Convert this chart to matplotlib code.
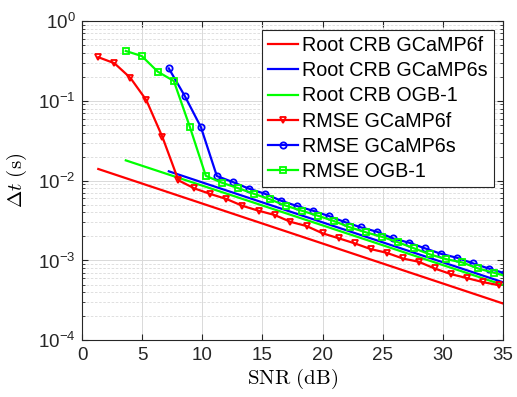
import matplotlib
matplotlib.use("Agg")
import matplotlib.pyplot as plt
from matplotlib.ticker import LogLocator, NullFormatter

# SNR grids (dB) of the simulated RMSE curves
snr_6f = [1.33, 2.67, 4.0, 5.33, 6.67, 8.0, 9.33, 10.67, 12.0, 13.33, 14.67,
          16.0, 17.33, 18.67, 20.0, 21.33, 22.67, 24.0, 25.33, 26.67, 28.0,
          29.33, 30.67, 32.0, 33.33, 34.67]
snr_6s = [7.2, 8.53, 9.87, 11.2, 12.53, 13.87, 15.2, 16.53, 17.87, 19.2,
          20.53, 21.87, 23.2, 24.53, 25.87, 27.2, 28.53, 29.87, 31.2, 32.53,
          33.87, 35.2]
snr_ogb = [3.62, 4.95, 6.28, 7.62, 8.95, 10.28, 11.62, 12.95, 14.28, 15.62,
           16.95, 18.28, 19.62, 20.95, 22.28, 23.62, 24.95, 26.28, 27.62,
           28.95, 30.28, 31.62, 32.95, 34.28, 35.62]

rmse_6f = [0.352, 0.296, 0.194, 0.102, 0.0352, 0.0101, 0.0080, 0.0068,
           0.00589, 0.00484, 0.0042, 0.00372, 0.00305, 0.0027, 0.00219,
           0.0019, 0.00164, 0.00139, 0.00125, 0.00106, 0.000964, 0.000794,
           0.000676, 0.000603, 0.000537, 0.00049]
rmse_6s = [0.255, 0.115, 0.047, 0.01143, 0.0096, 0.00794, 0.00685, 0.00562,
           0.00481, 0.0042, 0.0036, 0.00302, 0.0026, 0.00229, 0.00189,
           0.00167, 0.00142, 0.00121, 0.00108, 0.00092, 0.00079, 0.00069]
rmse_ogb = [0.421, 0.364, 0.232, 0.177, 0.0473, 0.0115, 0.00942, 0.00807,
            0.00685, 0.00583, 0.00485, 0.0042, 0.00363, 0.00312, 0.0026,
            0.00225, 0.00198, 0.00169, 0.00142, 0.00119, 0.00104, 0.000946,
            0.000794, 0.000701, 0.000617]

# root CRB (straight on log scale): start and end points
crb_6f_snr = [1.33, 35.0]
crb_6f = [0.0140, 0.00029]
crb_6s_snr = [7.2, 35.0]
crb_6s = [0.01309, 0.000535]
crb_ogb_snr = [3.62, 35.0]
crb_ogb = [0.01795, 0.000495]

x_ticks = [0, 5, 10, 15, 20, 25, 30, 35]
y_ticks = [1e-4, 1e-3, 1e-2, 1e-1, 1e0]
y_tick_labels = [r'$10^{-4}$', r'$10^{-3}$', r'$10^{-2}$', r'$10^{-1}$',
                 r'$10^{0}$']

plt.rcParams['font.family'] = ['Liberation Sans', 'DejaVu Sans']
plt.rcParams['mathtext.fontset'] = 'custom'
plt.rcParams['mathtext.rm'] = 'Liberation Sans'
plt.rcParams['mathtext.it'] = 'Liberation Sans:italic'
plt.rcParams['font.size'] = 13.5

fig = plt.figure(figsize=(5.17, 3.97), dpi=100)
ax = fig.add_axes([0.1592, 0.1428, 0.8132, 0.8043])

lw = 1.6
ms = 4.5
ax.plot(crb_6f_snr, crb_6f, color=(1, 0, 0), lw=lw, label='Root CRB GCaMP6f')
ax.plot(crb_6s_snr, crb_6s, color=(0, 0, 1), lw=lw, label='Root CRB GCaMP6s')
ax.plot(crb_ogb_snr, crb_ogb, color=(0, 1, 0), lw=lw, label='Root CRB OGB-1')
ax.plot(snr_6f, rmse_6f, color=(1, 0, 0), lw=lw, marker='v', ms=ms,
        mfc='none', mew=1.3, label='RMSE GCaMP6f')
ax.plot(snr_6s, rmse_6s, color=(0, 0, 1), lw=lw, marker='o', ms=ms,
        mfc='none', mew=1.3, label='RMSE GCaMP6s')
ax.plot(snr_ogb, rmse_ogb, color=(0, 1, 0), lw=lw, marker='s', ms=ms - 0.5,
        mfc='none', mew=1.3, label='RMSE OGB-1')

ax.set_yscale('log')
ax.set_xlim(0, 35)
ax.set_ylim(1e-4, 1)
ax.set_xticks(x_ticks)
ax.set_yticks(y_ticks)
ax.set_yticklabels(y_tick_labels)
ax.yaxis.set_minor_locator(LogLocator(base=10, subs=range(2, 10)))
ax.yaxis.set_minor_formatter(NullFormatter())

axis_col = (0.15, 0.15, 0.15)
for s in ax.spines.values():
    s.set_color(axis_col)
    s.set_linewidth(0.8)
ax.tick_params(which='both', direction='in', top=True, right=True,
               colors=axis_col, labelcolor=(0.15, 0.15, 0.15))
ax.tick_params(which='major', length=4, pad=5)
ax.tick_params(which='minor', length=2.5)

ax.grid(which='major', color=(0.85, 0.85, 0.85), lw=0.7)
ax.grid(which='minor', axis='y', color=(0.86, 0.86, 0.86), lw=0.6,
        ls=(0, (3, 2)))
ax.set_axisbelow(True)

ax.set_xlabel(r'$\mathrm{SNR\ (dB)}$', fontsize=15, math_fontfamily='cm',
              labelpad=2)
ax.set_ylabel(r'$\Delta t\ \mathrm{(s)}$', fontsize=15, math_fontfamily='cm',
              labelpad=6)

leg = ax.legend(loc='upper right', fontsize=14.2, fancybox=False,
                framealpha=1, edgecolor=axis_col, handlelength=1.55,
                handletextpad=0.2, labelspacing=0.32, borderpad=0.3,
                borderaxespad=0.45)
leg.get_frame().set_linewidth(0.8)

fig.savefig('out.png', dpi=100)
